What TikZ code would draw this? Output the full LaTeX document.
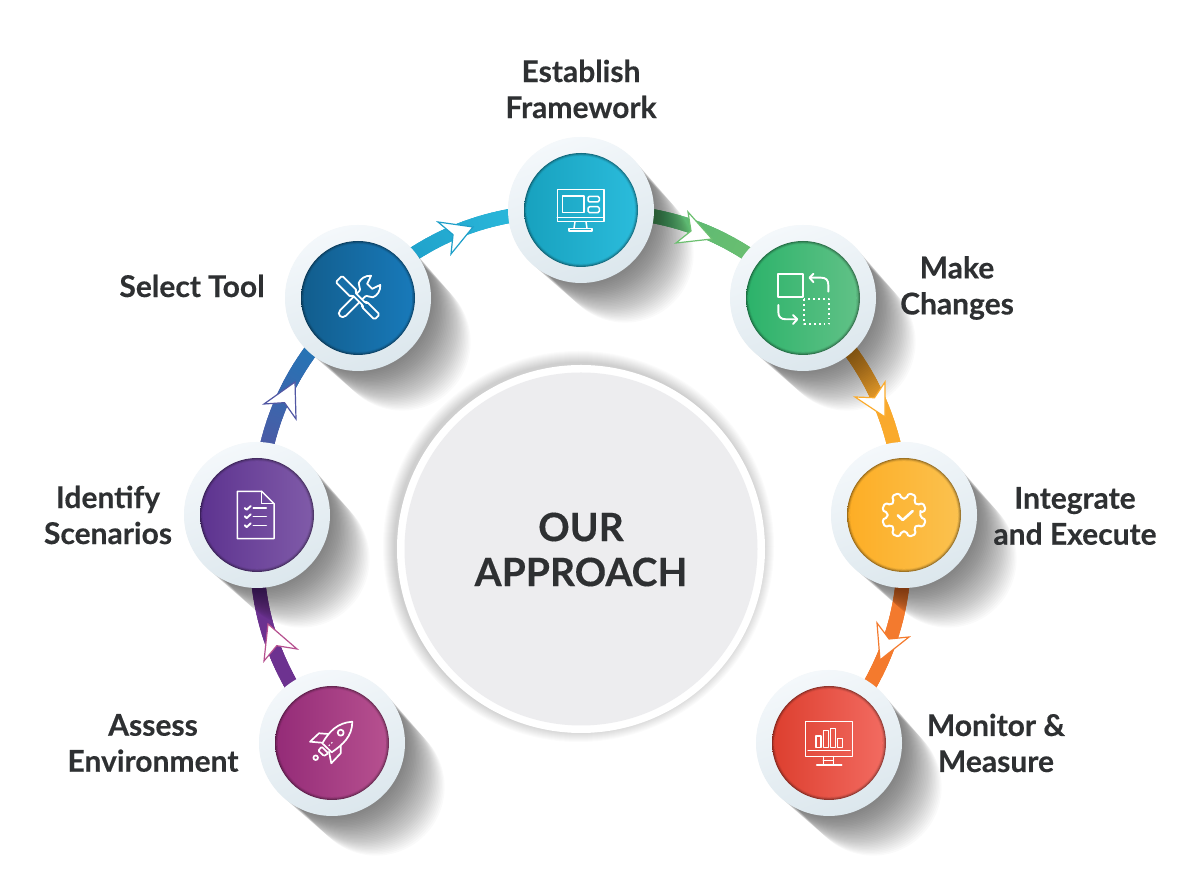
\documentclass[tikz,border=0pt]{standalone}
\usepackage{fontspec}
\setmainfont{Lato}[BoldFeatures={FakeBold=0.3}]
\usetikzlibrary{calc,decorations.markings}
\pgfdeclarelayer{bgl}
\pgfdeclarelayer{conn}
\pgfdeclarelayer{shad}
\pgfsetlayers{bgl,conn,shad,main}
\definecolor{inktext}{HTML}{2E3032}
\definecolor{ringL}{HTML}{F4F8FB}
\definecolor{ringR}{HTML}{DCE7ED}
\definecolor{coreg}{HTML}{EDEDEF}
\definecolor{teL}{HTML}{18A2BF}\definecolor{teR}{HTML}{2ABBDB}
\definecolor{grL}{HTML}{2DB36B}\definecolor{grR}{HTML}{60C186}
\definecolor{yeL}{HTML}{FDAE26}\definecolor{yeR}{HTML}{FBC14E}
\definecolor{reL}{HTML}{DD4030}\definecolor{reR}{HTML}{F26A60}
\definecolor{blL}{HTML}{125E8E}\definecolor{blR}{HTML}{1879B9}
\definecolor{puL}{HTML}{5E3490}\definecolor{puR}{HTML}{7F5AA8}
\definecolor{maL}{HTML}{952C78}\definecolor{maR}{HTML}{B6508F}
\definecolor{a1}{HTML}{6A3190}\definecolor{a2}{HTML}{6E3290}
\definecolor{b1}{HTML}{5157A3}\definecolor{b2}{HTML}{2078B8}
\definecolor{c1}{HTML}{1E9FC9}\definecolor{c2}{HTML}{2BBADC}
\definecolor{d1}{HTML}{55B574}\definecolor{d2}{HTML}{6CC070}
\definecolor{e1}{HTML}{F5A52E}\definecolor{e2}{HTML}{FBAB2C}
\definecolor{f1}{HTML}{F37A2E}\definecolor{f2}{HTML}{F47A2D}
\tikzset{
  x=1pt,y=1pt,
  ringnode/.style={circle,inner sep=0pt,minimum size=146pt,left color=ringL,right color=ringR,shading angle=20},
  label/.style={font=\fontsize{30}{36}\selectfont\bfseries,text=inktext,align=center,inner sep=0pt},
  corelabel/.style={font=\fontsize{39}{45}\selectfont\bfseries,text=inktext,align=center,inner sep=0pt},
  iconline/.style={draw=white,line width=1.5pt,line join=round,line cap=round},
  gradarc/.style n args={2}{line width=14pt,draw=#1,
    postaction={decorate,decoration={markings,
      mark=between positions 0 and 1 step 0.01 with {
        \pgfmathtruncatemacro{\kk}{min(100,max(0,(\pgfkeysvalueof{/pgf/decoration/mark info/sequence number}-22)*100/56))}
        \draw[line width=14pt,draw=#2!\kk!#1] (-0.4,0) -- (3,0);
      }}}},
}
\newcommand{\stepdisc}[4]{%
  \begin{pgfonlayer}{shad}
    \foreach \d in {2,3.5,...,44}{
      \draw[line width={146pt-\d*0.2pt},line cap=round,draw=black,opacity=.018] (#2) -- ++(\d,-\d);
    }
  \end{pgfonlayer}
  \foreach \r/\k in {57/62,56.2/74,55.4/86,54.6/95,53.8/100}{
    \shade[left color=#3!\k!black,right color=#4!\k!black] (#1.center) circle (\r);
  }
}
\newcommand{\arrowhd}[4]{%
  \draw[fill=white,draw=#1,line width=1.2pt,line join=miter]
    (#2) -- (#3) -- ($($(#3)!.5!(#4)$)!.3!(#2)$) -- (#4) -- cycle;
}
\begin{document}
\begin{tikzpicture}
\useasboundingbox (0,0) rectangle (1200,896);
\begin{pgfonlayer}{bgl}
\fill[white] (0,0) rectangle (1200,896);
\end{pgfonlayer}

% nodes
\node[ringnode] (E)  at (581,686) {};
\node[ringnode] (M)  at (803,598) {};
\node[ringnode] (I)  at (904,381) {};
\node[ringnode] (Mo) at (829,153) {};
\node[ringnode] (S)  at (358,598) {};
\node[ringnode] (Id) at (257,381) {};
\node[ringnode] (A)  at (332,153) {};

% connectors
\begin{pgfonlayer}{conn}
\draw[gradarc={a2}{a1}] (A.center)  to[bend left=21.5] (Id.center);
\draw[gradarc={b1}{b2}] (Id.center) to[bend left=21.5] (S.center);
\draw[gradarc={c1}{c2}] (S.center)  to[bend left=21.5] (E.center);
\draw[gradarc={d1}{d2}] (E.center)  to[bend left=21.5] (M.center);
\draw[gradarc={e1}{e2}] (M.center)  to[bend left=21.5] (I.center);
\draw[gradarc={f1}{f2}] (I.center)  to[bend left=21.5] (Mo.center);
\end{pgfonlayer}

\stepdisc{E}{581,686}{teL}{teR}
\stepdisc{M}{803,598}{grL}{grR}
\stepdisc{I}{904,381}{yeL}{yeR}
\stepdisc{Mo}{829,153}{reL}{reR}
\stepdisc{S}{358,598}{blL}{blR}
\stepdisc{Id}{257,381}{puL}{puR}
\stepdisc{A}{332,153}{maL}{maR}

% arrowheads
\arrowhd{maR}{268,272}{297,247}{264,235}
\arrowhd{b1}{295,514}{264,492}{296,477}
\arrowhd{c1}{473,669}{438,674}{451,642}
\arrowhd{d2}{712,657}{688,684}{676,653}
\arrowhd{e2}{885,479}{885,514}{855,499}
\arrowhd{f2}{880,236}{877,273}{909,259}

% centre
\foreach \r in {184.5,185.5,...,196}{
  \fill[black,opacity=.016] (578.5,349.5) circle (\r);
}
\node[circle,fill=white,inner sep=0pt,minimum size=368pt] (core) at (581,347) {};
\fill[coreg] (core.center) circle (176.5);
\node[corelabel] (coretext) at (581,346.5) {OUR\\APPROACH};

% labels
\node[label] (tE)  at (581,807) {Establish\\Framework};
\node[label] (tM)  at (957,608) {Make\\Changes};
\node[label] (tI)  at (1075,380) {Integrate\\and Execute};
\node[label] (tMo) at (996,153) {Monitor \&\\Measure};
\node[label] (tS)  at (192,610) {Select Tool};
\node[label] (tId) at (108,381) {Identify\\Scenarios};
\node[label] (tA)  at (153,153) {Assess\\Environment};

% icon: framework
\begin{scope}[shift={(E.center)},iconline]
  \draw (-23.7,20.7) rectangle (23,-11.7);
  \draw (-23.7,-7.3) -- (23,-7.3);
  \draw (-18.7,14) rectangle (3,-2.7);
  \draw[rounded corners=1.5pt] (7,13.7) rectangle (18.3,8);
  \draw[rounded corners=1.5pt] (7,3.3) rectangle (18.3,-2.7);
  \draw (-6,-11.7) -- (-7,-18.3) (5,-11.7) -- (6,-18.3);
  \draw (-12,-18.3) rectangle (11,-21);
\end{scope}

% icon: make changes
\begin{scope}[shift={(M.center)},iconline,line width=1.9pt]
  \draw (-25.3,24) rectangle (0,1);
  \draw (25.3,6.3) -- (25.3,13) .. controls (25.3,18) and (23,20.3) .. (18,20.3) -- (7,20.3);
  \draw (10.5,24.3) -- (6.5,20.3) -- (10.5,15.8);
  \draw (-24.7,-7) -- (-24.7,-14) .. controls (-24.7,-19) and (-22,-21.3) .. (-17,-21.3) -- (-6,-21.3);
  \draw (-10,-17) -- (-5.7,-21.3) -- (-10,-26);
  \draw[dash pattern=on 1.7pt off 3.2pt,line cap=butt] (1.3,-1.3) rectangle (26,-26);
\end{scope}

% icon: integrate (gear)
\begin{scope}[shift={(I.center)},iconline,line width=2pt]
  \draw[rounded corners=1.8pt] (22.5-15:16.5)
    \foreach \a in {22.5,67.5,...,337.5}{
      -- (\a-15:16.5) -- (\a-10:22.5) -- (\a+10:22.5) -- (\a+15:16.5)
    } -- cycle;
  \draw[line width=2.6pt] (-6.3,-0.3) -- (-1.3,-5) -- (8.7,4);
\end{scope}

% icon: monitor
\begin{scope}[shift={(Mo.center)},iconline]
  \draw (-23.3,21.3) rectangle (23.7,-13.7);
  \draw (-21,-7.7) -- (21,-7.7);
  \draw (-13,-4.3) rectangle (-8,7);
  \draw (-5.7,-4.3) rectangle (-0.7,12.3);
  \draw (1.7,-4.3) rectangle (6.7,14.7);
  \draw (8.7,-4.3) rectangle (13.7,4.7);
  \draw (-5.7,-13.7) -- (-5.7,-22) (4.3,-13.7) -- (4.3,-22);
  \draw (-5.7,-17.5) -- (4.3,-17.5);
  \draw (-12.3,-22) -- (12.7,-22);
\end{scope}

% icon: tools
\begin{scope}[shift={(S.center)},iconline,line width=1.8pt]
  \begin{scope}[rotate=45]
    \draw (-21,4) -- (6,4) .. controls (9,4) and (8,8) .. (11,10)
      .. controls (15,12) and (21,11) .. (25,6.5) -- (16.5,3.5) -- (16.5,-3.5) -- (25,-6.5)
      .. controls (21,-11) and (15,-12) .. (11,-10)
      .. controls (8,-8) and (9,-4) .. (6,-4) -- (-21,-4)
      .. controls (-27,-4) and (-27,4) .. (-21,4) -- cycle;
  \end{scope}
  \begin{scope}[rotate=-45]
    \draw[fill=blR!60!blL,rounded corners=1.5pt]
      (-27,-4.5) -- (-27,4.5) -- (-6,4.5) -- (-6,1.8) -- (9,1.8) -- (9,3.6) -- (27,3.6)
      -- (27,-3.6) -- (9,-3.6) -- (9,-1.8) -- (-6,-1.8) -- (-6,-4.5) -- cycle;
  \end{scope}
\end{scope}

% icon: scenarios
\begin{scope}[shift={(Id.center)},iconline]
  \draw (-19.7,23.7) -- (4.7,23.7) -- (17,11.3) -- (17,-23.7) -- (-19.7,-23.7) -- cycle;
  \draw (4.7,23.7) -- (4.7,11.3) -- (17,11.3);
  \foreach \y in {7,-1.3,-10.3}{
    \draw (-3.7,\y) -- (9.3,\y);
    \draw[line width=1.9pt] (-12.3,\y) -- (-10.3,\y-1.8) -- (-6.3,\y+2);
  }
\end{scope}

% icon: rocket
\begin{scope}[shift={(A.center)},iconline,line width=1.7pt]
  \draw (20.3,21.3) .. controls (5.3,20.3) and (-3,11.3) .. (-9.7,-0.3) -- (-0.3,-9.3)
    .. controls (10.3,-2) and (20.3,6.3) .. (20.3,21.3) -- cycle;
  \draw (8.7,10.3) circle (3);
  \draw (-3.7,9) -- (-13,9.7) -- (-22,1.3) -- (-10.3,0.3);
  \draw (8.7,-3) -- (8.7,-10.3) -- (-0.7,-20.3) -- (-3,-8.7);
  \draw[rounded corners=1pt] (-10.3,-3.7) -- (-3.7,-10.3) -- (-8,-13) -- (-13.7,-7.7) -- cycle;
  \draw (-16.3,-14.7) circle (2.3);
  \draw[dash pattern=on 1.5pt off 2pt,line cap=butt,line width=1pt] (-5.7,-5.3) -- (0.3,0.7);
\end{scope}
\end{tikzpicture}
\end{document}
